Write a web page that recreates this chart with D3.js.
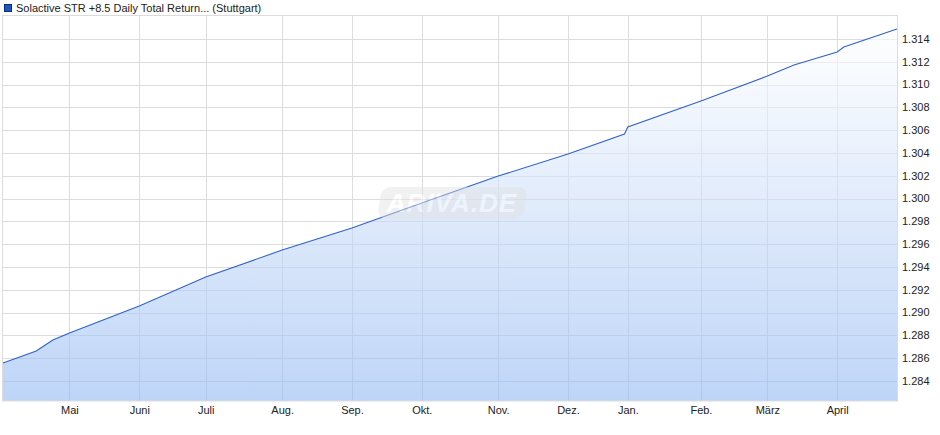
<!DOCTYPE html>
<html><head><meta charset="utf-8">
<script src="https://cdn.jsdelivr.net/npm/d3@7"></script>
<style>body{margin:0;background:#fff}svg{display:block;font-family:"Liberation Sans",Arial,sans-serif}</style>
</head><body><svg id="c" width="940" height="435"></svg>
<script>
const seriesName = "Solactive STR +8.5 Daily Total Return... (Stuttgart)";
const dates = ["2024-04-03","2024-04-17","2024-04-24","2024-05-02","2024-06-03","2024-07-01","2024-08-01","2024-09-02","2024-10-01","2024-11-01","2024-12-02","2024-12-30","2025-01-02","2025-02-03","2025-03-03","2025-03-13","2025-04-01","2025-04-03","2025-04-29"];
const values = [1.28558,1.28663,1.28760,1.28821,1.29058,1.29312,1.29549,1.29742,1.29961,1.30198,1.30391,1.30567,1.30628,1.30856,1.31075,1.31172,1.31286,1.31330,1.31488];
const monthTicks = ["2024-05-02","2024-06-03","2024-07-01","2024-08-01","2024-09-02","2024-10-01","2024-11-01","2024-12-02","2025-01-02","2025-02-03","2025-03-03","2025-04-01"];
const monthLabels = ["Mai","Juni","Juli","Aug.","Sep.","Okt.","Nov.","Dez.","Jan.","Feb.","März","April"];
const yTicks = [1.284,1.286,1.288,1.290,1.292,1.294,1.296,1.298,1.300,1.302,1.304,1.306,1.308,1.310,1.312,1.314];
const noQuoteDays = ["2024-05-01","2024-05-20","2024-08-15","2024-12-24","2024-12-25","2024-12-26","2024-12-31","2025-01-01","2025-04-18","2025-04-21"];

const parse = d3.utcParse("%Y-%m-%d");
const fmt = d3.utcFormat("%Y-%m-%d");
const hol = new Set(noQuoteDays);
const start = parse(dates[0]);
function bday(s){
  const d = parse(s);
  return d3.utcDay.range(start, d).filter(t => t.getUTCDay()!==0 && t.getUTCDay()!==6 && !hol.has(fmt(t))).length;
}
const data = dates.map((d,i)=>({i:bday(d), v:values[i]}));

const L=2.5, R=897.5, T=16, B=401;
const svg = d3.select("#c");
const x = d3.scaleLinear().domain([0, data[data.length-1].i]).range([3, 897]);
const y = d3.scaleLinear().domain([1.28225, 1.31602]).range([B, T]);

const defs = svg.append("defs");
const g = defs.append("linearGradient").attr("id","fill")
  .attr("gradientUnits","userSpaceOnUse").attr("x1",0).attr("x2",0).attr("y1",y(values[values.length-1])).attr("y2",B);
g.append("stop").attr("offset","0").attr("stop-color","#ffffff");
g.append("stop").attr("offset","1").attr("stop-color","#93b9f2");

// grid
svg.append("g").selectAll("line").data(yTicks).join("line")
  .attr("x1",L).attr("x2",R).attr("y1",d=>Math.round(y(d))+0.5).attr("y2",d=>Math.round(y(d))+0.5)
  .attr("stroke","#dcdcdc").attr("stroke-width",1);
svg.append("g").selectAll("line").data(monthTicks).join("line")
  .attr("x1",d=>Math.round(x(bday(d)))+0.5).attr("x2",d=>Math.round(x(bday(d)))+0.5).attr("y1",T).attr("y2",B)
  .attr("stroke","#dcdcdc").attr("stroke-width",1);

// area
const area = d3.area().x(d=>x(d.i)).y0(B).y1(d=>y(d.v));
svg.append("path").datum(data).attr("d",area).attr("fill","url(#fill)").attr("fill-opacity",0.6);
const line = d3.line().x(d=>x(d.i)).y(d=>y(d.v));
svg.append("path").datum(data).attr("d",line).attr("fill","none").attr("stroke","#2f62c8").attr("stroke-width",1.1);

// frame
svg.append("rect").attr("x",L).attr("y",T-0.5).attr("width",R-L).attr("height",B-T+0.5)
  .attr("fill","none").attr("stroke","#dcdcdc").attr("stroke-width",1);

// watermark
const wm = svg.append("g").attr("opacity",0.45);
wm.append("rect").attr("x",380).attr("y",187).attr("width",146).attr("height",32).attr("rx",9)
  .attr("fill","#e2e2e2").attr("transform","skewX(-8) translate(28,0)");
wm.append("text").attr("x",452).attr("y",212).attr("text-anchor","middle")
  .attr("font-size",26).attr("font-weight","bold").attr("font-style","italic")
  .attr("fill","#ffffff").attr("letter-spacing",1).text("ARIVA.DE");

// y axis labels
svg.append("g").selectAll("text").data(yTicks).join("text")
  .attr("x",902).attr("y",d=>y(d)).attr("dy","0.35em")
  .attr("font-size",11).attr("fill","#222").text(d=>d3.format(".3f")(d));

// x axis labels
svg.append("g").selectAll("text").data(monthTicks).join("text")
  .attr("x",d=>x(bday(d))+0.5).attr("y",414).attr("text-anchor","middle")
  .attr("font-size",11).attr("fill","#222").text((d,i)=>monthLabels[i]);

// legend
svg.append("rect").attr("x",4.5).attr("y",4.5).attr("width",7).attr("height",7)
  .attr("fill","#1f55c0").attr("stroke","#0d2f7a").attr("stroke-width",1);
svg.append("text").attr("x",16).attr("y",12).attr("font-size",11).attr("fill","#222").text(seriesName);
</script></body></html>
